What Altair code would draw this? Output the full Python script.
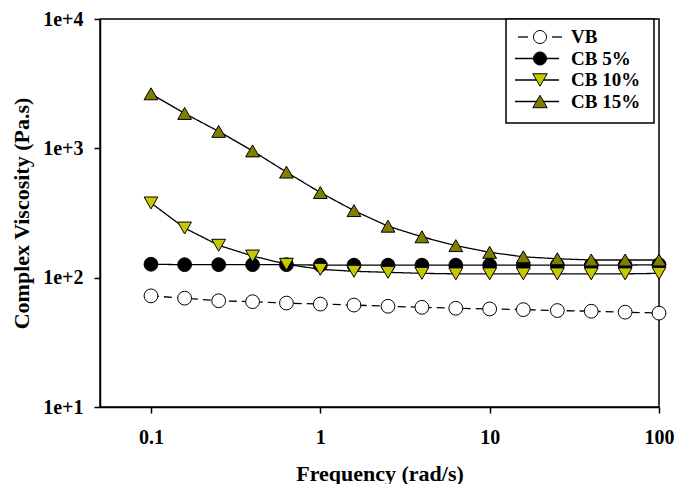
import altair as alt
import pandas as pd

freq = [0.1, 0.158, 0.251, 0.398, 0.631, 1, 1.58, 2.51, 3.98, 6.31, 10, 15.8, 25.1, 39.8, 63.1, 100]
vb = [72.3, 69.4, 66.3, 65.2, 63.6, 62.5, 61.4, 60.1, 59.0, 58.0, 57.3, 56.6, 55.7, 55.0, 54.1, 53.2]
cb5 = [127, 126, 126, 126, 126, 125, 125, 125, 125, 125, 125, 125, 125, 125, 125, 126]
cb10 = [378, 242, 178, 147, 127, 116, 112, 110, 108, 107, 107, 107, 107, 107, 107, 108]
cb15 = [2640, 1862, 1352, 955, 655, 455, 330, 250, 207, 177, 157, 145, 140, 137, 137, 137]

names = ["VB", "CB 5%", "CB 10%", "CB 15%"]
fills = ["white", "black", "#c8c800", "#808000"]
shapes = ["circle", "circle", "triangle-down", "triangle-up"]
sizes = [190, 190, 230, 230]
dashes = [[8, 5], [1, 0], [1, 0], [1, 0]]

rows = []
for name, vals in zip(names, [vb, cb5, cb10, cb15]):
    for f, v in zip(freq, vals):
        rows.append({"freq": f, "visc": v, "series": name})
df = pd.DataFrame(rows)

FONT = "Liberation Serif"
W, H = 559, 388

x = alt.X("freq:Q", scale=alt.Scale(type="log", domain=[0.05, 100]),
          axis=alt.Axis(values=[0.1, 1, 10, 100], format="~g", title="Frequency (rad/s)",
                        tickSize=6, labelPadding=24, labelBaseline="middle", labelFlush=False,
                        titleY=66, titleBaseline="middle"))
y = alt.Y("visc:Q", scale=alt.Scale(type="log", domain=[10, 10000]),
          axis=alt.Axis(values=[10, 100, 1000, 10000],
                        labelExpr="'1e+' + round(log(datum.value)/LN10)",
                        title="Complex Viscosity (Pa.s)", tickSize=6, labelPadding=11,
                        labelFlush=False,
                        titleX=-79, titleY=H / 2, titleAngle=270, titleAlign="center",
                        titleBaseline="middle"))

base = alt.Chart(df)
lines = base.mark_line(color="black", strokeWidth=1.3).encode(
    x=x, y=y, detail="series:N",
    strokeDash=alt.StrokeDash("series:N", scale=alt.Scale(domain=names, range=dashes), legend=None),
)
points = base.mark_point(filled=True, stroke="black", strokeWidth=1, opacity=1).encode(
    x=x, y=y,
    shape=alt.Shape("series:N", scale=alt.Scale(domain=names, range=shapes), legend=None),
    fill=alt.Fill("series:N", scale=alt.Scale(domain=names, range=fills), legend=None),
    size=alt.Size("series:N", scale=alt.Scale(domain=names, range=sizes), legend=None),
)

layers = [lines, points]

# custom legend (layout in pixels of plot area)
one = pd.DataFrame({"a": [0]})
box = alt.Chart(one).mark_rect(fill="white", stroke="black", strokeWidth=1.5).encode(
    x=alt.value(406), x2=alt.value(554), y=alt.value(0), y2=alt.value(104))
layers.append(box)
row_y = [18, 39.5, 61, 82.5]
for name, fill, shape, size, dash, ry in zip(names, fills, shapes, sizes, dashes, row_y):
    d = pd.DataFrame({"series": [name]})
    if name == "VB":
        for xa, xb in [(418, 428), (452, 462)]:
            layers.append(alt.Chart(d).mark_rule(color="black", strokeWidth=1.3).encode(
                x=alt.value(xa), x2=alt.value(xb), y=alt.value(ry)))
    else:
        layers.append(alt.Chart(d).mark_rule(color="black", strokeWidth=1.3).encode(
            x=alt.value(415), x2=alt.value(459), y=alt.value(ry)))
    layers.append(alt.Chart(d).mark_point(filled=True, fill=fill, stroke="black", strokeWidth=1,
                                          opacity=1, shape=shape, size=size * 0.9).encode(
        x=alt.value(440), y=alt.value(ry)))
    layers.append(alt.Chart(d).mark_text(font=FONT, fontWeight="bold", fontSize=19, align="left",
                                         baseline="middle", color="black").encode(
        x=alt.value(471), y=alt.value(ry), text="series:N"))

chart = alt.layer(*layers).properties(
    width=W, height=H,
    autosize=alt.AutoSizeParams(type="none"),
    padding={"left": 92, "top": 11, "right": 18, "bottom": 77},
).configure_view(stroke="black", strokeWidth=1.5).configure_axis(
    grid=False, domainColor="black", domainWidth=1.5, tickColor="black", tickWidth=1.5,
    labelFont=FONT, labelFontSize=20, labelFontWeight="bold", labelColor="black",
    titleFont=FONT, titleFontSize=22, titleFontWeight="bold", titleColor="black",
)

chart.save("out.html", embed_options={"renderer": "svg", "actions": False})
